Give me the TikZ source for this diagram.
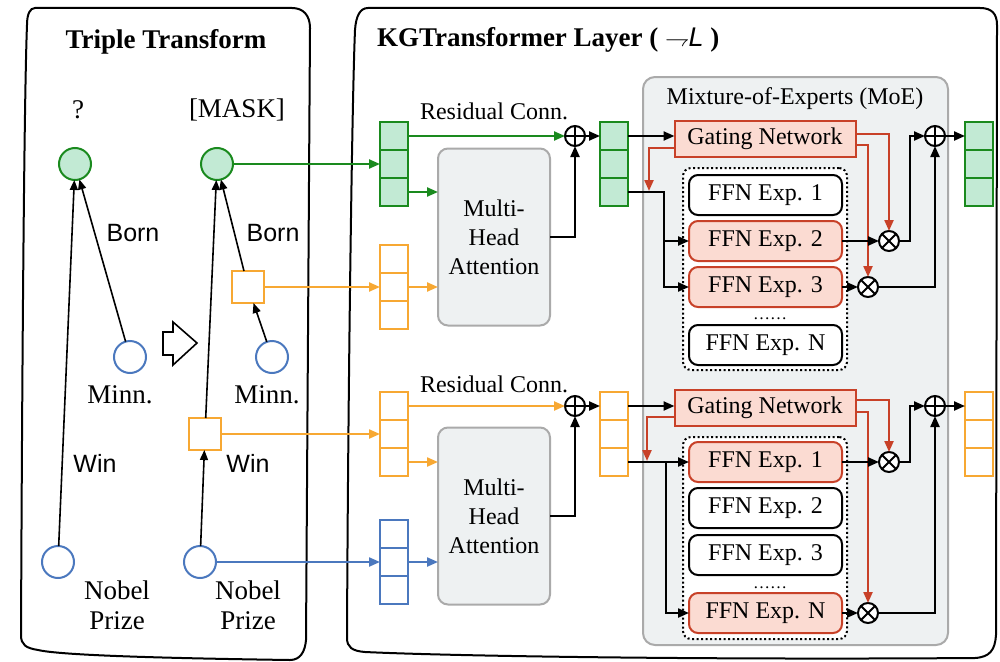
\documentclass[tikz,border=0pt]{standalone}
\usepackage{fontspec}
\setmainfont{Liberation Serif}
\newfontfamily\lblfont{Liberation Sans}
\usetikzlibrary{arrows.meta,calc}

\definecolor{c1a8a1e}{RGB}{26,138,30}
\definecolor{cc2ead4}{RGB}{194,234,212}
\definecolor{cf7a833}{RGB}{247,168,51}
\definecolor{c4b78be}{RGB}{75,120,190}
\definecolor{cc84128}{RGB}{200,65,40}
\definecolor{cfbdbd2}{RGB}{251,219,210}
\definecolor{ceef1f2}{RGB}{238,241,242}
\definecolor{caaaaaa}{RGB}{170,170,170}

\tikzset{
  arrtip/.style={-{Triangle[length=11pt,width=9pt]}},
  arr/.style={arrtip,draw=black,line width=2.2pt},
  karr/.style={-{Triangle[length=10pt,width=8pt]},draw=black,line width=1.6pt},
  garr/.style={arrtip,draw=c1a8a1e,line width=2.2pt},
  oarr/.style={arrtip,draw=cf7a833,line width=2.2pt},
  barr/.style={arrtip,draw=c4b78be,line width=2.2pt},
  rarr/.style={arrtip,draw=cc84128,line width=2.2pt},
  panel/.style={draw=black,line width=2pt},
  ent/.style={circle,minimum size=32pt,line width=2pt},
  entg/.style={ent,draw=c1a8a1e,fill=cc2ead4},
  entb/.style={ent,draw=c4b78be,fill=white},
  relbox/.style={rectangle,minimum size=32pt,line width=2pt,draw=cf7a833,fill=white},
  cellg/.style={rectangle,minimum size=28pt,line width=2pt,draw=c1a8a1e,fill=cc2ead4},
  cello/.style={cellg,draw=cf7a833,fill=white},
  cellb/.style={cellg,draw=c4b78be,fill=white},
  mhabox/.style={rounded corners=10pt,draw=caaaaaa,fill=ceef1f2,line width=2pt,
    minimum width=112pt,minimum height=177pt,align=center},
  moebox/.style={rounded corners=12pt,draw=caaaaaa,fill=ceef1f2,line width=2pt,
    minimum width=305pt,minimum height=568pt},
  gatebox/.style={draw=cc84128,fill=cfbdbd2,line width=2pt,minimum width=181pt,minimum height=36pt},
  grpbox/.style={rounded corners=8pt,draw=black,fill=white,line width=2pt,
    dash pattern=on 2pt off 2.5pt,minimum width=164pt,minimum height=202pt},
  ffnbox/.style={rounded corners=9pt,draw=black,fill=white,line width=2pt,
    minimum width=153pt,minimum height=40pt},
  ffnon/.style={ffnbox,draw=cc84128,fill=cfbdbd2},
  addop/.style={circle,draw=black,fill=white,line width=2pt,minimum size=20pt,
    path picture={\draw[line width=2pt] (path picture bounding box.north) -- (path picture bounding box.south)
      (path picture bounding box.west) -- (path picture bounding box.east);}},
  mulop/.style={circle,draw=black,fill=white,line width=2pt,minimum size=20pt,
    path picture={\draw[line width=2pt] (path picture bounding box.north west) -- (path picture bounding box.south east)
      (path picture bounding box.north east) -- (path picture bounding box.south west);}},
  lbl/.style={font=\fontsize{27}{30}\selectfont,align=center},
  rlbl/.style={font=\lblfont\fontsize{25}{28}\selectfont},
  ttl/.style={font=\bfseries\fontsize{27}{30}\selectfont}
}

\begin{document}
\begin{tikzpicture}[y=1pt, x=1pt, yscale=-1, inner sep=0pt, outer sep=0pt,
    font=\fontsize{24}{29}\selectfont]
\useasboundingbox (0,0) rectangle (1000,661);

% the two panels
\path[panel] (35,8) -- (292,8) .. controls (303,8) and (310,15) .. (310,28) --
  (306,640) .. controls (305,652) and (300,660) .. (290,660) .. controls (150,658)
  and (60,655) .. (38,650) .. controls (26,648) and (21,645) .. (21,635) ..
  controls (22,400) and (24,100) .. (27,25) .. controls (27,14) and (30,8) .. (35,8) -- cycle;
\path[panel] (368,8) -- (980,8) .. controls (992,8) and (997,14) .. (997,25) --
  (996,635) .. controls (995,650) and (990,657) .. (975,658) .. controls (700,660)
  and (450,656) .. (365,652) .. controls (352,651) and (347,647) .. (347,638) ..
  controls (348,400) and (352,100) .. (355,30) .. controls (356,16) and (360,8) .. (368,8) -- cycle;
\node[ttl] (ttltriple) at (166,42) {Triple Transform};
\node[ttl,anchor=west] (ttlkg) at (377,40) {KGTransformer Layer ( {\lblfont\mdseries$\rightharpoondown$\kern-1pt\textit{L}} )};

% triple graphs
\node[lbl] (qlbl) at (78,110) {?};
\node[lbl] (masklbl) at (237,110) {[MASK]};
\node[entg] (q) at (75,164) {};
\node[entg] (mask) at (217,164) {};
\node[entb] (minnA) at (130,357) {};
\node[entb] (minnB) at (272,357) {};
\node[entb] (nobelA) at (58,562) {};
\node[entb] (nobelB) at (200,562) {};
\node[relbox] (relB) at (248,287) {};
\node[relbox] (relW) at (205,434) {};
\node[rlbl] (bornA) at (133,233) {Born};
\node[rlbl] (bornB) at (273,233) {Born};
\node[rlbl] (winA) at (95,463) {Win};
\node[rlbl] (winB) at (248,463) {Win};
\node[lbl] (minnAlbl) at (120,395) {Minn.};
\node[lbl] (minnBlbl) at (267,395) {Minn.};
\node[lbl] (nobelAlbl) at (117,605) {Nobel\\Prize};
\node[lbl] (nobelBlbl) at (248,605) {Nobel\\Prize};
\draw[karr] (nobelA) -- (q);
\draw[karr] (minnA) -- (q);
\draw[karr] (nobelB) -- (relW);
\draw[karr] (relW) -- (mask);
\draw[karr] (minnB) -- (relB);
\draw[karr] (relB) -- (mask);
\draw[line width=1.6pt,line join=miter] (163,332) -- (173,332) -- (173,322) -- (197,343) --
  (173,365) -- (173,355) -- (163,355) -- cycle;

% token stacks
\node[cellg] (sa1) at (394,136) {}; \node[cellg] (sa2) at (394,164) {}; \node[cellg] (sa3) at (394,192) {};
\node[cello] (sb1) at (394,259) {}; \node[cello] (sb2) at (394,287) {}; \node[cello] (sb3) at (394,315) {};
\node[cello] (sc1) at (394,406) {}; \node[cello] (sc2) at (394,434) {}; \node[cello] (sc3) at (394,462) {};
\node[cellb] (sd1) at (394,534) {}; \node[cellb] (sd2) at (394,562) {}; \node[cellb] (sd3) at (394,590) {};
\node[cellg] (se1) at (614,136) {}; \node[cellg] (se2) at (614,164) {}; \node[cellg] (se3) at (614,192) {};
\node[cello] (sf1) at (614,406) {}; \node[cello] (sf2) at (614,434) {}; \node[cello] (sf3) at (614,462) {};
\node[cellg] (sg1) at (979,136) {}; \node[cellg] (sg2) at (979,164) {}; \node[cellg] (sg3) at (979,192) {};
\node[cello] (sh1) at (979,406) {}; \node[cello] (sh2) at (979,434) {}; \node[cello] (sh3) at (979,462) {};
\draw[garr] (mask.east) -- (sa2.west);
\draw[oarr] (relB.east) -- (sb2.west);
\draw[oarr] (relW.east) -- (sc2.west);
\draw[barr] (nobelB.east) -- (sd2.west);

% attention
\node[mhabox] (mha1) at (494,237) {Multi-\\Head\\Attention};
\node[mhabox] (mha2) at (494,516) {Multi-\\Head\\Attention};
\node (res1) at (494,111) {Residual Conn.};
\node (res2) at (494,384) {Residual Conn.};
\node[addop] (add1) at (575,136) {};
\node[addop] (add2) at (575,406) {};
\draw[garr] (sa3.east) -- (sa3.east -| mha1.west);
\draw[oarr] (sb2.east) -- (sb2.east -| mha1.west);
\draw[oarr] (sc3.east) -- (sc3.east -| mha2.west);
\draw[barr] (sd2.east) -- (sd2.east -| mha2.west);
\draw[garr] (sa1.east) -- (add1.west);
\draw[arr] (mha1.east) -| (add1.south);
\draw[arr] (add1.east) -- (se1.west);
\draw[oarr] (sc1.east) -- (add2.west);
\draw[arr] (mha2.east) -| (add2.south);
\draw[arr] (add2.east) -- (sf1.west);

% mixture of experts
\node[moebox] (moe) at (795.5,361) {};
\node (moelbl) at (795,99) {Mixture-of-Experts (MoE)};
\node[grpbox] (grp1) at (765,269) {};
\node[grpbox] (grp2) at (765,538) {};
\node[gatebox] (gate1) at (765,139) {Gating Network};
\node[gatebox] (gate2) at (765,408) {Gating Network};
\node[ffnbox] (e11) at (765.5,195) {FFN Exp. 1};
\node[ffnon] (e12) at (765.5,241) {FFN Exp. 2};
\node[ffnon] (e13) at (765.5,287) {FFN Exp. 3};
\node[anchor=base,font=\fontsize{17}{20}\selectfont] (dots1) at (770,319) {\ldots\ldots};
\node[ffnbox] (e1n) at (765.5,345) {FFN Exp. N};
\node[ffnon] (e21) at (765.5,462) {FFN Exp. 1};
\node[ffnbox] (e22) at (765.5,508) {FFN Exp. 2};
\node[ffnbox] (e23) at (765.5,555) {FFN Exp. 3};
\node[anchor=base,font=\fontsize{17}{20}\selectfont] (dots2) at (770,588) {\ldots\ldots};
\node[ffnon] (e2n) at (765.5,613) {FFN Exp. N};
\node[mulop] (mul1a) at (889,241) {};
\node[mulop] (mul1b) at (868,287) {};
\node[mulop] (mul2a) at (889,462) {};
\node[mulop] (mul2b) at (868,613) {};
\node[addop] (add3) at (935,136) {};
\node[addop] (add4) at (935,406) {};
\coordinate (bus1) at (664,0);
\coordinate (bus2) at (666,0);
\coordinate (jn) at (910,0);
\coordinate (gdrop1) at (649,191);
\coordinate (gdrop2) at (647,461);

\draw[arr] (se1.east) -- (se1.east -| gate1.west);
\draw[arr] (se3.east) -| (bus1 |- e13.west) -- (e13.west);
\draw[arr] (bus1 |- e12.west) -- (e12.west);
\draw[rarr] ($(gate1.west)!0.5!(gate1.south west)$) -| (gdrop1);
\draw[rarr] ($(gate1.east)!0.3!(gate1.north east)$) -| (mul1a.north);
\draw[rarr] ($(gate1.east)!0.35!(gate1.south east)$) -| (mul1b.north);
\draw[arr] (e12.east) -- (mul1a.west);
\draw[arr] (e13.east) -- (mul1b.west);
\draw[arr] (mul1a.east) -- (mul1a.east -| jn) |- (add3.west);
\draw[arr] (mul1b.east) -| (add3.south);
\draw[arr] (add3.east) -- (sg1.west);

\draw[arr] (sf1.east) -- (sf1.east -| gate2.west);
\draw[arr] (sf3.east) -- (e21.west);
\draw[arr] (bus2 |- sf3.east) |- (e2n.west);
\draw[rarr] ($(gate2.west)!0.5!(gate2.south west)$) -| (gdrop2);
\draw[rarr] ($(gate2.east)!0.45!(gate2.north east)$) -| (mul2a.north);
\draw[rarr] ($(gate2.east)!0.2!(gate2.south east)$) -| (mul2b.north);
\draw[arr] (e21.east) -- (mul2a.west);
\draw[arr] (e2n.east) -- (mul2b.west);
\draw[arr] (mul2a.east) -- (mul2a.east -| jn) |- (add4.west);
\draw[arr] (mul2b.east) -| (add4.south);
\draw[arr] (add4.east) -- (sh1.west);
\end{tikzpicture}
\end{document}
